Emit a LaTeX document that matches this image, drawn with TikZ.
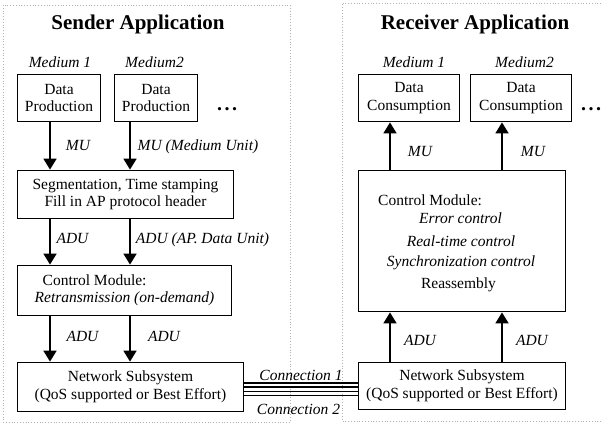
\documentclass[tikz,border=0pt]{standalone}
\usepackage{fontspec}
\setmainfont{Liberation Serif}[BoldFont={Liberation Serif Bold}, ItalicFont={Liberation Serif Italic}, BoldItalicFont={Liberation Serif Bold Italic}]
\usetikzlibrary{arrows.meta,calc}
\begin{document}
\begin{tikzpicture}[x=1pt,y=-1pt,
  every node/.style={font=\fontsize{15.5}{17.5}\selectfont, inner sep=0pt},
  box/.style={draw, line width=1.8pt, align=center},
  lbl/.style={anchor=base, font=\fontsize{15.5}{17.5}\selectfont\itshape},
  txt/.style={anchor=base},
  dots/.style={anchor=base, font=\fontsize{20}{22}\selectfont\bfseries},
  arr/.style={line width=1.8pt, -{Triangle[length=11pt,width=13pt]}},
  frame/.style={draw=gray!60, dotted, line width=0.8pt},
  conn/.style={line width=1.8pt},
  title/.style={anchor=base, font=\fontsize{21}{24}\selectfont\bfseries}]
\useasboundingbox (0,0) rectangle (601,424);

% frames
\draw[frame] (3,5) rectangle (290,422);
\draw[frame] (601,3) -- (342,3) -- (342,421) -- (601,421);

% titles
\node[title] (tS) at (138,29.3) {Sender Application};
\node[title] (tR) at (475,29.3) {Receiver Application};

% medium labels
\node[lbl] (m1s) at (60,67.7) {Medium 1};
\node[lbl] (m2s) at (154.5,67.7) {Medium2};
\node[lbl] (m1r) at (414,67.7) {Medium 1};
\node[lbl] (m2r) at (524.5,67.7) {Medium2};

% sender boxes
\node[box, minimum width=83pt, minimum height=47pt] (dp1) at (59,98) {Data\\Production};
\node[box, minimum width=83pt, minimum height=47pt] (dp2) at (156,98) {Data\\Production};
\node[dots] (dotsS) at (227,110.5) {.\hspace{2.5pt}.\hspace{2.5pt}.};
\node[box, minimum width=216pt, minimum height=48pt] (seg) at (125.5,194.5) {Segmentation, Time stamping\\Fill in AP protocol header};
\node[box, minimum width=214pt, minimum height=50pt, align=left] (cm) at (124.5,290.5) {\hspace*{8pt}Control Module:\\\textit{Retransmission (on-demand)}};
\node[box, minimum width=226pt, minimum height=49pt] (ns) at (130.5,387) {Network Subsystem\\(QoS supported or Best Effort)};

% receiver boxes
\node[box, minimum width=101pt, minimum height=47pt] (dc1) at (409,98) {Data\\Consumption};
\node[box, minimum width=101pt, minimum height=47pt] (dc2) at (521,98) {Data\\Consumption};
\node[dots] (dotsR) at (591,110.5) {.\hspace{2.5pt}.\hspace{2.5pt}.};
\node[box, minimum width=207pt, minimum height=141pt] (rcm) at (462,241) {};
\node[txt, anchor=base west] (rcm1) at (378,205.7) {Control Module:};
\node[lbl] (rcm2) at (460.5,223.3) {Error control};
\node[lbl] (rcm3) at (461,246) {Real-time control};
\node[lbl] (rcm4) at (461,266.7) {Synchronization control};
\node[txt] (rcm5) at (458.5,288.3) {Reassembly};
\node[box, minimum width=207pt, minimum height=47pt] (rns) at (462,386) {Network Subsystem\\(QoS supported or Best Effort)};

% arrow columns
\coordinate (xa) at (50,0);
\coordinate (xb) at (130,0);
\coordinate (xc) at (390,0);
\coordinate (xd) at (502,0);

\draw[arr] (dp1.south -| xa) -- (seg.north -| xa);
\draw[arr] (dp2.south -| xb) -- (seg.north -| xb);
\draw[arr] (seg.south -| xa) -- (cm.north -| xa);
\draw[arr] (seg.south -| xb) -- (cm.north -| xb);
\draw[arr] (cm.south -| xa) -- (ns.north -| xa);
\draw[arr] (cm.south -| xb) -- (ns.north -| xb);
\draw[arr] (rcm.north -| xc) -- (dc1.south -| xc);
\draw[arr] (rcm.north -| xd) -- (dc2.south -| xd);
\draw[arr] (rns.north -| xc) -- (rcm.south -| xc);
\draw[arr] (rns.north -| xd) -- (rcm.south -| xd);

% arrow labels
\node[lbl] (l1) at (78,150.7) {MU};
\node[lbl] (l2) at (198,150.7) {MU (Medium Unit)};
\node[lbl] (l3) at (72.5,243.3) {ADU};
\node[lbl] (l4) at (202.5,243.3) {ADU (AP. Data Unit)};
\node[lbl] (l5) at (82.5,341.7) {ADU};
\node[lbl] (l6) at (164,341.7) {ADU};
\node[lbl] (l7) at (420,156.7) {MU};
\node[lbl] (l8) at (533,156.7) {MU};
\node[lbl] (l9) at (420,345.5) {ADU};
\node[lbl] (l10) at (532,345.5) {ADU};

% connections
\foreach \dy in {-3.7,0.3,4.5,8.5}{
  \coordinate (cs) at ($(ns.east)+(0,\dy)$);
  \draw[conn] (cs) -- (cs -| rns.west);
}
\node[lbl] (c1) at (301,380.7) {Connection 1};
\node[lbl] (c2) at (298.5,414) {Connection 2};
\end{tikzpicture}
\end{document}
